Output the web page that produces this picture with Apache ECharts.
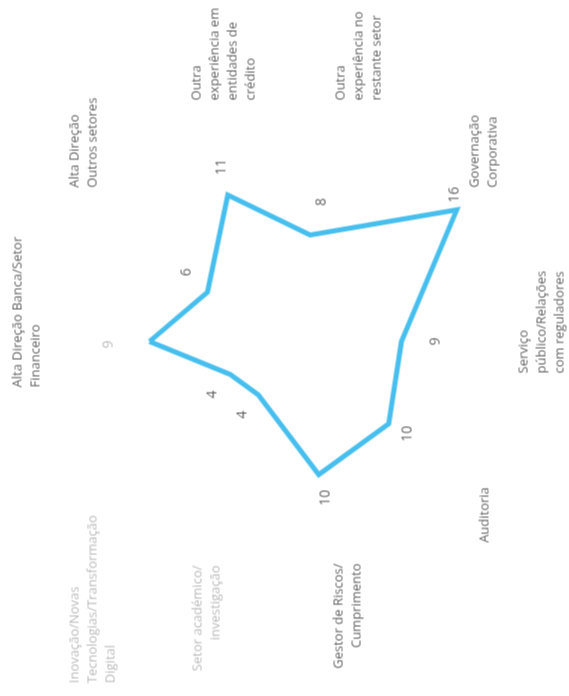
<!DOCTYPE html>
<html>
<head>
<meta charset="utf-8">
<script src="https://cdn.jsdelivr.net/npm/echarts@6/dist/echarts.min.js"></script>
<style>
  html, body { margin: 0; padding: 0; background: #fff; overflow: hidden; }
  /* the chart is drawn upright and turned a quarter to the left, like the scanned page */
  #chart {
    position: absolute;
    width: 696px;
    height: 569px;
    left: -64px;
    top: 64px;
    transform: rotate(-90deg);
  }
</style>
</head>
<body>
<div id="chart"></div>
<script>
// categories clockwise from the top axis
var categories = [
  'Alta Direção Banca/Setor\nFinanceiro',
  'Alta Direção\nOutros setores',
  'Outra\nexperiência em\nentidades de\ncrédito',
  'Outra\nexperiência no\nrestante setor',
  'Governação\nCorporativa',
  'Serviço\npúblico/Relações\ncom reguladores',
  'Auditoria',
  'Gestor de Riscos/\nCumprimento',
  'Setor académico/\ninvestigação',
  'Inovação/Novas\nTecnologias/Transformação\nDigital'
]
var values = [9, 6, 11, 8, 16, 9, 10, 10, 4, 4]
var axisMax = 16

// label placement (px, upright frame) — names hang from the axis ends, values from the points
var nameOffset = [[-46, -25], [22, -10], [28, 18], [28, 14], [22, 27], [-32, 42], [-14, 28], [-9, 3], [-11, 1], [-210, -1]]
var nameAlign = ['left', 'left', 'left', 'left', 'left', 'left', 'right', 'right', 'right', 'left']
var valueOffset = [[-3, -41], [20, -21], [28, -6], [33, 11], [15, -2], [0, 34], [-10, 19], [-23, 7], [-20, -16], [-20, -18]]
var fadedNames = [8, 9]
var fadedValues = [0]

var lineColor = '#47bfee'
var textColor = '#3a3a3a'
var fadedColor = '#a9a9a9'
var font = 'Open Sans'

// echarts radar runs counter-clockwise, so keep the first axis and reverse the rest
var order = [0]
for (var k = categories.length - 1; k > 0; k--) order.push(k)

var center = [355, 276]
var radius = 224

var myChart = echarts.init(document.getElementById('chart'))

myChart.setOption({
  animation: false,
  backgroundColor: '#fff',
  radar: {
    center: center,
    radius: radius,
    startAngle: 90,
    shape: 'polygon',
    indicator: order.map(function (i) { return { name: categories[i], max: axisMax, min: 0 } }),
    axisName: { show: false },
    axisLine: { show: false },
    splitLine: { show: false },
    splitArea: { show: false },
    axisTick: { show: false },
    axisLabel: { show: false }
  },
  // a polar frame matching the radar, used to hang the texts
  polar: {
    center: center,
    radius: radius
  },
  angleAxis: {
    type: 'category',
    data: categories,
    boundaryGap: false,
    startAngle: 90,
    clockwise: true,
    show: false
  },
  radiusAxis: {
    min: 0,
    max: axisMax,
    show: false
  },
  series: [
    {
      type: 'radar',
      symbol: 'none',
      silent: true,
      lineStyle: { color: lineColor, width: 5, join: 'miter' },
      data: [{ value: order.map(function (i) { return values[i] }) }]
    },
    {
      // value labels
      type: 'scatter',
      coordinateSystem: 'polar',
      symbolSize: 0,
      silent: true,
      data: values.map(function (v, i) {
        return {
          value: [v, i],
          label: {
            show: true,
            position: 'inside',
            offset: valueOffset[i],
            formatter: String(v),
            fontFamily: font,
            fontSize: 14,
            color: fadedValues.indexOf(i) > -1 ? fadedColor : textColor
          }
        }
      })
    },
    {
      // category names at the end of each axis
      type: 'scatter',
      coordinateSystem: 'polar',
      symbolSize: 0,
      silent: true,
      data: categories.map(function (c, i) {
        return {
          value: [axisMax, i],
          label: {
            show: true,
            position: 'inside',
            align: nameAlign[i],
            verticalAlign: 'middle',
            offset: nameOffset[i],
            formatter: function () { return c },
            fontFamily: font,
            fontSize: 13,
            lineHeight: 18,
            color: fadedNames.indexOf(i) > -1 ? fadedColor : textColor
          }
        }
      })
    }
  ]
})
</script>
</body>
</html>
